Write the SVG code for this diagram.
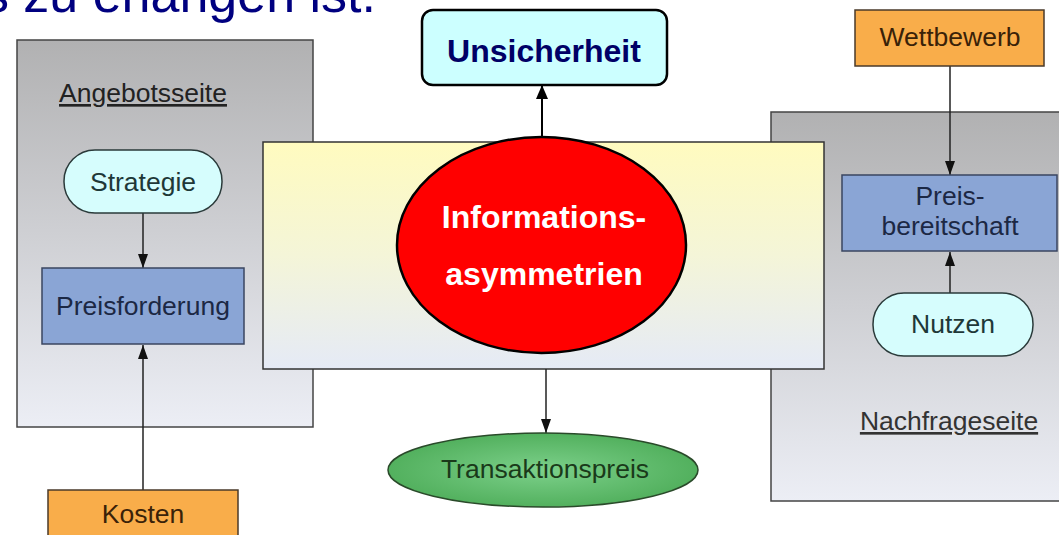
<svg xmlns="http://www.w3.org/2000/svg" width="1059" height="535" viewBox="0 0 1059 535">
<defs>
<linearGradient id="gray" x1="0" y1="0" x2="0" y2="1">
<stop offset="0" stop-color="#b1b1b2"/>
<stop offset="1" stop-color="#eceef5"/>
</linearGradient>
<linearGradient id="yel" x1="0" y1="0" x2="0" y2="1">
<stop offset="0" stop-color="#fffbbf"/>
<stop offset="0.5" stop-color="#f4f5d8"/>
<stop offset="1" stop-color="#e5eaf6"/>
</linearGradient>
<radialGradient id="green" cx="0.5" cy="0.5" r="0.6">
<stop offset="0" stop-color="#7cd08a"/>
<stop offset="1" stop-color="#4aaa55"/>
</radialGradient>
<marker id="arr" viewBox="0 0 14 10" refX="14" refY="5" markerWidth="14" markerHeight="10" markerUnits="userSpaceOnUse" orient="auto">
<path d="M0,0 L14,5 L0,10 z" fill="#111"/>
</marker>
<marker id="arrB" viewBox="0 0 14 12" refX="14" refY="6" markerWidth="14" markerHeight="12" markerUnits="userSpaceOnUse" orient="auto">
<path d="M0,0 L14,6 L0,12 z" fill="#000"/>
</marker>
<style>
.lbl{font-family:"Liberation Sans",Arial,sans-serif;font-size:26.5px;text-anchor:middle}
.big{font-family:"Liberation Sans",Arial,sans-serif;font-size:32px;font-weight:bold;text-anchor:middle}
.panel{fill:url(#gray);stroke:#444;stroke-width:1.5}
.blue{fill:#8aa5d5;stroke:#3a4660;stroke-width:1.5}
.pill{fill:#d6fdfd;stroke:#2a3a3a;stroke-width:1.5}
.orange{fill:#f9ad4a;stroke:#4a3a2a;stroke-width:1.5}
.con{stroke:#222;stroke-width:1.5;fill:none;marker-end:url(#arr)}
</style>
</defs>
<rect width="1059" height="535" fill="#fff"/>
<text x="376" y="12" font-family="Liberation Sans, Arial, sans-serif" font-size="52" fill="#000080" text-anchor="end">es zu erlangen ist.</text>

<g id="angebotsseite">
<rect class="panel" x="17" y="40" width="296" height="387"/>
<text class="lbl" x="143" y="102" fill="#222" text-decoration="underline">Angebotsseite</text>
</g>
<g id="nachfrageseite">
<rect class="panel" x="771" y="112" width="300" height="389"/>
<text class="lbl" x="949" y="430" fill="#333" text-decoration="underline">Nachfrageseite</text>
</g>
<g id="markt">
<rect x="263" y="142" width="561" height="227" fill="url(#yel)" stroke="#333" stroke-width="1.5"/>
</g>

<g id="connectors">
<line class="con" x1="143" y1="213" x2="143" y2="268"/>
<line class="con" x1="143" y1="490" x2="143" y2="345"/>
<line class="con" x1="950" y1="66" x2="950" y2="175"/>
<line class="con" x1="950" y1="293" x2="950" y2="252"/>
<line class="con" x1="546" y1="369" x2="546" y2="433"/>
<line x1="542" y1="137" x2="542" y2="85" stroke="#000" stroke-width="2" marker-end="url(#arrB)"/>
</g>

<g id="strategie">
<rect class="pill" x="64" y="150" width="158" height="63" rx="31"/>
<text class="lbl" x="143" y="191" fill="#1e3838">Strategie</text>
</g>
<g id="preisforderung">
<rect class="blue" x="42" y="268" width="202" height="76"/>
<text class="lbl" x="143" y="315" fill="#1c2844">Preisforderung</text>
</g>
<g id="kosten">
<rect class="orange" x="48" y="490" width="190" height="60"/>
<text class="lbl" x="143" y="523" fill="#3a2208">Kosten</text>
</g>
<g id="wettbewerb">
<rect class="orange" x="855" y="10" width="189" height="56"/>
<text class="lbl" x="950" y="46" fill="#3a2208">Wettbewerb</text>
</g>
<g id="preisbereitschaft">
<rect class="blue" x="842" y="175" width="215" height="76"/>
<text class="lbl" x="950" y="205" fill="#1c2844">Preis-</text>
<text class="lbl" x="950" y="235" fill="#1c2844">bereitschaft</text>
</g>
<g id="nutzen">
<rect class="pill" x="873" y="293" width="160" height="63" rx="31"/>
<text class="lbl" x="953" y="333" fill="#1e3838">Nutzen</text>
</g>
<g id="transaktionspreis">
<ellipse cx="543" cy="470" rx="155" ry="37" fill="url(#green)" stroke="#2a4a2a" stroke-width="1.5"/>
<text class="lbl" x="545" y="478" fill="#1a3a1a">Transaktionspreis</text>
</g>
<g id="unsicherheit">
<rect x="422" y="10" width="245" height="75" rx="11" fill="#ccffff" stroke="#000" stroke-width="2.5"/>
<text class="big" x="544" y="62" fill="#000066">Unsicherheit</text>
</g>
<g id="informationsasymmetrien">
<ellipse cx="541.5" cy="245" rx="144.5" ry="108" fill="#ff0000" stroke="#000" stroke-width="2.5"/>
<text class="big" x="544" y="228" fill="#fff">Informations-</text>
<text class="big" x="544" y="285" fill="#fff">asymmetrien</text>
</g>
</svg>
